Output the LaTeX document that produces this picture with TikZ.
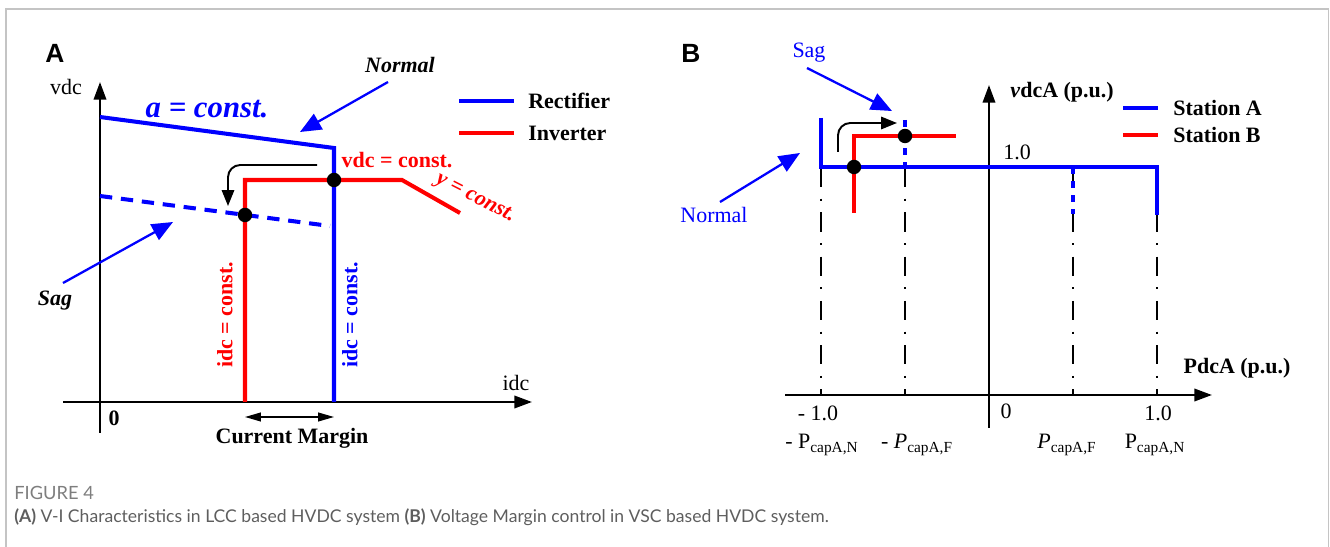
\documentclass[tikz,border=0pt]{standalone}
\usepackage{fontspec}
\setmainfont{Liberation Serif}
\newfontfamily\panelfont{Liberation Sans}
\newfontfamily\capfont{Lato}
\usetikzlibrary{arrows.meta,positioning}

\definecolor{capgrey}{HTML}{5E5E5E}
\definecolor{framegrey}{HTML}{C4C4C4}

\tikzset{
  lbl/.style={inner sep=0pt, font=\fontsize{12.5}{14}\selectfont},
  blbl/.style={inner sep=0pt, font=\fontsize{12.5}{14}\selectfont\bfseries},
  tag/.style={inner sep=0pt, font=\panelfont\fontsize{15}{15}\selectfont\bfseries},
  axis/.style={line width=1.4pt, -{Triangle[length=10pt,width=7pt]}},
  bline/.style={blue, line width=2.3pt},
  rline/.style={red, line width=2.3pt},
  opdot/.style={circle, fill=black, inner sep=0pt, minimum size=8.2pt},
  callout/.style={blue, line width=1.3pt, -{Triangle[length=12pt,width=10pt]}},
  guide/.style={line width=1.1pt, dash pattern=on 11pt off 6.5pt on 1.2pt off 6.5pt},
  shiftarrow/.style={line width=1.1pt, rounded corners=7pt, -{Triangle[length=9pt,width=7pt]}},
}

\begin{document}
\begin{tikzpicture}[x=0.02cm, y=-0.02cm]
\useasboundingbox (0,0) rectangle (1330,547);
% frame
\draw[framegrey, line width=0.7pt] (6,547) -- (6,9) -- (1328.5,9) -- (1328.5,547);

% ---------- panel A ----------
\node[tag] (tagA) at (55,53) {A};
\coordinate (aYb) at (100,433);
\coordinate (aYt) at (100,82);
\coordinate (aXl) at (63,402);
\coordinate (aXr) at (532,402);
\draw[axis] (aYb) -- (aYt);
\draw[axis] (aXl) -- (aXr);
\node[lbl] (vdc) at (66,87) {vdc};
\node[lbl] (idc) at (516,383) {idc};
\node[blbl] (zeroA) at (114,418) {0};

% rectifier
\coordinate (r1) at (100,117);
\coordinate (r2) at (334,148);
\coordinate (r3) at (334,402);
\draw[bline] (r1) -- (r2) -- (r3);
% inverter
\coordinate (i1) at (245,402);
\coordinate (i2) at (245,180);
\coordinate (i3) at (402,180);
\coordinate (i4) at (460,213);
\draw[rline] (i1) -- (i2) -- (i3) -- (i4);
% sag
\coordinate (s1) at (100,196);
\coordinate (s2) at (330,226);
\draw[blue, line width=2.3pt, dash pattern=on 7pt off 5pt] (s1) -- (s2);

\node[opdot] (pN) at (334,180) {};
\node[opdot] (pS) at (245,215) {};

\coordinate (mvA1) at (317,165);
\coordinate (mvA2) at (228,206);
\draw[shiftarrow] (mvA1) -| (mvA2);

\node[blue, inner sep=0pt, font=\fontsize{17.5}{18}\selectfont\bfseries\itshape] (aconst) at (207,109) {a = const.};
\node[red, blbl] (vconst) at (397,160) {vdc = const.};
\node[red, blbl, font=\fontsize{12.5}{14}\selectfont\bfseries\itshape, rotate=-27] (yconst) at (475,199) {y = const.};
\node[red, blbl, rotate=90] (iconstI) at (225,315) {idc = const.};
\node[blue, blbl, rotate=90] (iconstR) at (350,315) {idc = const.};

\node[blbl, font=\fontsize{12.5}{14}\selectfont\bfseries\itshape] (normA) at (400,65) {Normal};
\coordinate (normAs) at (388,82);
\coordinate (normAe) at (300,132);
\draw[callout] (normAs) -- (normAe);
\node[blbl, font=\fontsize{12.5}{14}\selectfont\bfseries\itshape] (sagA) at (55,301) {Sag};
\coordinate (sagAs) at (63,283);
\coordinate (sagAe) at (173,222);
\draw[callout] (sagAs) -- (sagAe);

\coordinate (cm1) at (245,417);
\coordinate (cm2) at (334,417);
\draw[line width=0.8pt, {Triangle[length=9pt,width=5pt]}-{Triangle[length=9pt,width=5pt]}] (cm1) -- (cm2);
\node[blbl] (cmargin) at (292,438) {Current Margin};

% legend A
\coordinate (lgA1) at (459,101);
\coordinate (lgA2) at (514,101);
\coordinate (lgA3) at (459,133);
\coordinate (lgA4) at (514,133);
\draw[bline] (lgA1) -- (lgA2);
\draw[rline] (lgA3) -- (lgA4);
\node[blbl, anchor=west] (rect) at (528,101) {Rectifier};
\node[blbl, anchor=west] (inver) at (528,133) {Inverter};

% ---------- panel B ----------
\node[tag] (tagB) at (691,53) {B};
\coordinate (bYb) at (989,428);
\coordinate (bYt) at (989,85);
\coordinate (bXl) at (785,395);
\coordinate (bXr) at (1212,395);
\draw[axis] (bYb) -- (bYt);
\draw[axis] (bXl) -- (bXr);
\node[blbl] (vdcAlbl) at (1062,92) {\textit{v}dcA (p.u.)};
\node[blbl] (pdcAlbl) at (1237,368) {PdcA (p.u.)};
\node[lbl] (one) at (1017,152) {1.0};

% guide lines
\foreach \gx/\gn in {821/g1, 905/g2, 1073/g3, 1157/g4} {
  \coordinate (\gn t) at (\gx,168);
  \coordinate (\gn b) at (\gx,395);
  \draw[guide] (\gn t) -- (\gn b);
}

% station A
\coordinate (sa1) at (821,118);
\coordinate (sa2) at (821,167);
\coordinate (sa3) at (1157,167);
\coordinate (sa4) at (1157,215);
\draw[bline] (sa1) -- (sa2) -- (sa3) -- (sa4);
\coordinate (sd1) at (905,120);
\coordinate (sd2) at (905,167);
\draw[blue, line width=2.3pt, dash pattern=on 4pt off 4pt] (sd1) -- (sd2);
\coordinate (sd3) at (1073,167);
\coordinate (sd4) at (1073,214);
\draw[blue, line width=2.3pt, dash pattern=on 4pt off 4pt] (sd3) -- (sd4);
% station B
\coordinate (sb1) at (854,213);
\coordinate (sb2) at (854,136);
\coordinate (sb3) at (956,136);
\draw[rline] (sb1) -- (sb2) -- (sb3);

\node[opdot] (qN) at (854,167) {};
\node[opdot] (qS) at (905,136) {};

\coordinate (mvB1) at (838,152);
\coordinate (mvB2) at (897,123);
\draw[shiftarrow] (mvB1) |- (mvB2);

\node[blue, lbl] (sagB) at (809,53) {Sag};
\coordinate (sagBs) at (807,68);
\coordinate (sagBe) at (892,111);
\draw[callout] (sagBs) -- (sagBe);
\node[blue, lbl] (normB) at (714,215) {Normal};
\coordinate (normBs) at (720,202);
\coordinate (normBe) at (800,153);
\draw[callout] (normBs) -- (normBe);

% legend B
\coordinate (lgB1) at (1123,108);
\coordinate (lgB2) at (1158,108);
\coordinate (lgB3) at (1123,135);
\coordinate (lgB4) at (1158,135);
\draw[bline] (lgB1) -- (lgB2);
\draw[rline] (lgB3) -- (lgB4);
\node[blbl, anchor=west] (staA) at (1173,108) {Station A};
\node[blbl, anchor=west] (staB) at (1173,135) {Station B};

% ticks
\node[lbl] (tm1) at (818,413) {- 1.0};
\node[lbl] (t0) at (1006,411) {0};
\node[lbl] (tp1) at (1158,413) {1.0};
\node[lbl] (pnm) at (822,445) {- P\textsubscript{capA,N}};
\node[lbl] (pfm) at (917,445) {- \textit{P}\textsubscript{capA,F}};
\node[lbl] (pfp) at (1067,445) {\textit{P}\textsubscript{capA,F}};
\node[lbl] (pnp) at (1155,445) {P\textsubscript{capA,N}};

% caption
\node[capgrey!80, inner sep=0pt, anchor=west, font=\capfont\fontsize{10.4}{12}\selectfont] (figno) at (14,493) {FIGURE 4};
\node[capgrey, inner sep=0pt, anchor=west, font=\capfont\fontsize{10}{12}\selectfont] (caption) at (14,517)
  {\textbf{(A)} V-I Characteristics in LCC based HVDC system \textbf{(B)} Voltage Margin control in VSC based HVDC system.};
\end{tikzpicture}
\end{document}
